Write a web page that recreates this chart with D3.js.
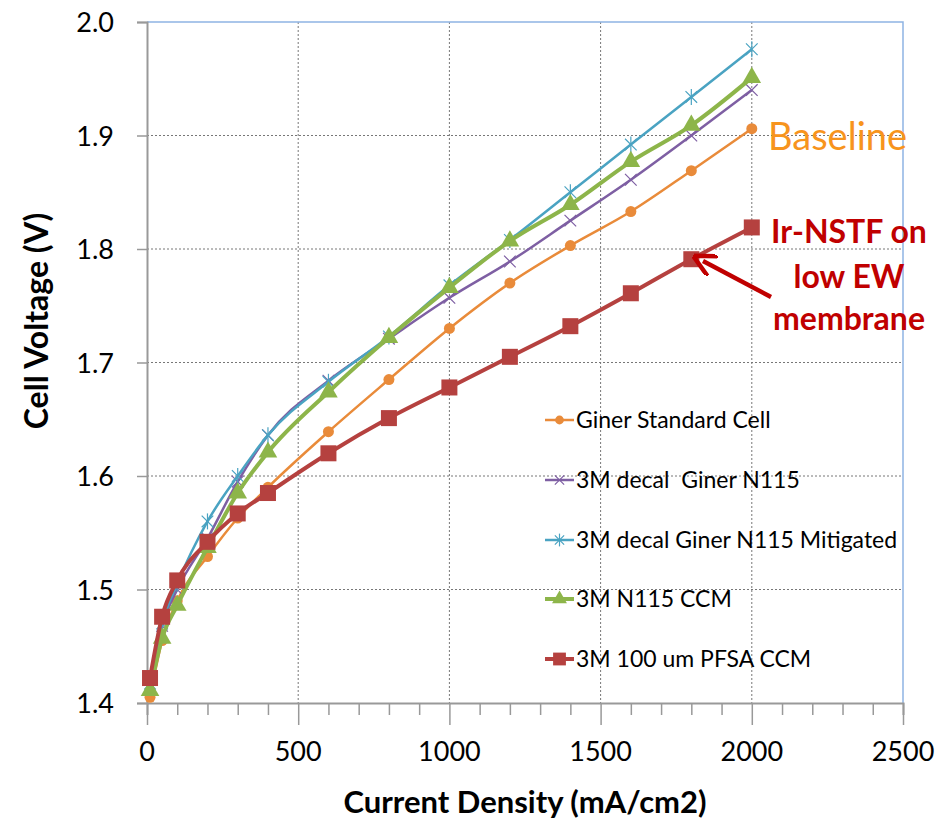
<!DOCTYPE html>
<html>
<head>
<meta charset="utf-8">
<script src="https://cdn.jsdelivr.net/npm/d3@7"></script>
<style>
  body { margin: 0; background: #fff; }
  text { font-family: Lato, "Open Sans", sans-serif; }
  .tick-label { font-size: 27px; fill: #000; }
  .axis-title { font-size: 31px; font-weight: bold; fill: #000; }
  .legend-label { font-size: 23px; fill: #000; white-space: pre; }
</style>
</head>
<body>
<div id="chart"></div>
<script>
const currents = [10, 50, 100, 200, 300, 400, 600, 800, 1000, 1200, 1400, 1600, 1800, 2000]

const ginerStandard = [1.405, 1.455, 1.490, 1.529, 1.563, 1.590, 1.639, 1.685, 1.730, 1.770, 1.803, 1.833, 1.869, 1.906]
const decalN115 = [1.415, 1.468, 1.500, 1.545, 1.595, 1.636, 1.684, 1.721, 1.757, 1.789, 1.825, 1.861, 1.900, 1.940]
const decalMitigated = [1.417, 1.470, 1.505, 1.560, 1.600, 1.636, 1.683, 1.723, 1.768, 1.808, 1.850, 1.892, 1.934, 1.976]
const n115CCM = [1.411, 1.457, 1.486, 1.537, 1.585, 1.621, 1.674, 1.722, 1.766, 1.807, 1.839, 1.877, 1.909, 1.951]
const pfsaCCM = [1.422, 1.476, 1.508, 1.542, 1.567, 1.585, 1.620, 1.651, 1.678, 1.705, 1.732, 1.761, 1.791, 1.819]

const seriesNames = ["Giner Standard Cell", "3M decal  Giner N115", "3M decal Giner N115 Mitigated", "3M N115 CCM", "3M 100 um PFSA CCM"]
const xTicks = [0, 500, 1000, 1500, 2000, 2500]
const yTicks = [1.4, 1.5, 1.6, 1.7, 1.8, 1.9, 2.0]

var width = 941, height = 829
var margin = {left: 147, right: 38, top: 22, bottom: 126}

var series = [
    {name: seriesNames[0], values: ginerStandard, color: "#E98B3A", lw: 2.5, marker: "circle"},
    {name: seriesNames[1], values: decalN115, color: "#7E5FA3", lw: 2.5, marker: "x"},
    {name: seriesNames[2], values: decalMitigated, color: "#4AA3C2", lw: 2.5, marker: "star"},
    {name: seriesNames[3], values: n115CCM, color: "#8DB54A", lw: 4, marker: "triangle"},
    {name: seriesNames[4], values: pfsaCCM, color: "#B5413F", lw: 4, marker: "square"}
]

var xScale = d3.scaleLinear().domain([0, 2500]).range([margin.left, width - margin.right])
var yScale = d3.scaleLinear().domain([1.4, 2.0]).range([height - margin.bottom, margin.top])

var svg = d3.select("#chart").append("svg")
    .attr("width", width)
    .attr("height", height)

// grid
svg.append("g").selectAll("line")
    .data(xTicks.filter(d => d > 0 && d < 2500))
    .enter().append("line")
        .attr("x1", d => xScale(d)).attr("x2", d => xScale(d))
        .attr("y1", yScale(2.0)).attr("y2", yScale(1.4))
        .attr("stroke", "#777").attr("stroke-width", 1).attr("stroke-dasharray", "2,2")
svg.append("g").selectAll("line")
    .data(yTicks.filter(d => d > 1.4 && d < 2.0))
    .enter().append("line")
        .attr("x1", xScale(0)).attr("x2", xScale(2500))
        .attr("y1", d => yScale(d)).attr("y2", d => yScale(d))
        .attr("stroke", "#777").attr("stroke-width", 1).attr("stroke-dasharray", "2,2")

// plot border top/right (light blue)
svg.append("path")
    .attr("d", "M" + xScale(0) + "," + yScale(2.0) + "H" + xScale(2500) + "V" + yScale(1.4))
    .attr("fill", "none").attr("stroke", "#8EB4E3").attr("stroke-width", 1.5)

// x axis
var xAxis = d3.axisBottom(xScale).tickValues(d3.range(0, 2501, 100)).tickFormat("").tickSize(12)
var gx = svg.append("g")
    .attr("transform", "translate(0," + yScale(1.4) + ")")
    .call(xAxis)
gx.select(".domain").attr("stroke", "#999").attr("stroke-width", 2)
gx.selectAll(".tick line").attr("stroke", "#999").attr("stroke-width", 1.5)
    .attr("y2", d => d % 500 === 0 ? 22 : 12)
svg.append("g").selectAll("text")
    .data(xTicks)
    .enter().append("text")
        .attr("class", "tick-label")
        .attr("x", d => xScale(d))
        .attr("y", yScale(1.4) + 58)
        .attr("text-anchor", "middle")
        .text(d => d)

// y axis
var yAxis = d3.axisLeft(yScale).tickValues(yTicks).tickFormat("").tickSize(10)
var gy = svg.append("g")
    .attr("transform", "translate(" + xScale(0) + ",0)")
    .call(yAxis)
gy.select(".domain").attr("stroke", "#999").attr("stroke-width", 2)
gy.selectAll(".tick line").attr("stroke", "#999").attr("stroke-width", 1.5)
svg.append("g").selectAll("text")
    .data(yTicks)
    .enter().append("text")
        .attr("class", "tick-label")
        .attr("x", xScale(0) - 33)
        .attr("y", d => yScale(d) + 10)
        .attr("text-anchor", "end")
        .text(d => d.toFixed(1))

svg.append("text")
    .attr("class", "axis-title")
    .style("font-size", "32px")
    .attr("transform", "translate(48," + 321 + ")rotate(-90)")
    .attr("text-anchor", "middle")
    .text("Cell Voltage (V)")
svg.append("text")
    .attr("class", "axis-title")
    .attr("x", 525).attr("y", 813)
    .attr("text-anchor", "middle")
    .text("Current Density (mA/cm2)")

// markers
function drawMarker(sel, type, color, s) {
    if (type === "circle") {
        sel.append("circle").attr("r", 5.5 * s).attr("fill", color)
    } else if (type === "x") {
        sel.append("path").attr("d", d3.symbol(d3.symbolTimes, 90 * s * s)())
            .attr("stroke", color).attr("stroke-width", 1.2).attr("fill", "none")
    } else if (type === "star") {
        sel.append("path").attr("d", d3.symbol(d3.symbolTimes, 90 * s * s)())
            .attr("stroke", color).attr("stroke-width", 1.2).attr("fill", "none")
        sel.append("line").attr("y1", -8 * s).attr("y2", 8 * s)
            .attr("stroke", color).attr("stroke-width", 1.2)
    } else if (type === "triangle") {
        sel.append("path").attr("d", d3.symbol(d3.symbolTriangle, 150 * s * s)())
            .attr("fill", color)
    } else if (type === "square") {
        sel.append("rect").attr("x", -8 * s).attr("y", -8 * s)
            .attr("width", 16 * s).attr("height", 16 * s).attr("fill", color)
    }
}

var line = d3.line()
    .x((d, i) => xScale(currents[i]))
    .y(d => yScale(d))
    .curve(d3.curveMonotoneX)

series.forEach(function(s) {
    svg.append("path")
        .datum(s.values)
        .attr("d", line)
        .attr("fill", "none")
        .attr("stroke", s.color)
        .attr("stroke-width", s.lw)
    svg.append("g").selectAll("g")
        .data(s.values)
        .enter().append("g")
            .attr("transform", (d, i) => "translate(" + xScale(currents[i]) + "," + yScale(d) + ")")
            .each(function() { drawMarker(d3.select(this), s.marker, s.color, 1) })
})

// legend
var legendY = [420, 480, 540, 599, 659]
series.forEach(function(s, i) {
    var lg = svg.append("g").attr("transform", "translate(545," + legendY[i] + ")")
    lg.append("line").attr("x1", 0).attr("x2", 29).attr("stroke", s.color).attr("stroke-width", s.lw)
    var m = lg.append("g").attr("transform", "translate(14.5,0)")
    drawMarker(m, s.marker, s.color, 0.8)
    lg.append("text")
        .attr("class", "legend-label")
        .attr("x", 31).attr("y", 8)
        .text(s.name)
})

// annotations
svg.append("text")
    .attr("x", 768).attr("y", 150)
    .attr("font-size", 38).attr("fill", "#F7941D")
    .text("Baseline")

var ann = svg.append("text")
    .attr("font-size", 32).attr("font-weight", "bold").attr("fill", "#C00000")
    .attr("text-anchor", "middle")
;[["Ir-NSTF on", 243], ["low EW", 288], ["membrane", 330]].forEach(function(l) {
    ann.append("tspan").attr("x", 849).attr("y", l[1]).text(l[0])
})

svg.append("defs").append("marker")
    .attr("id", "arrow").attr("viewBox", "0 0 10 10")
    .attr("refX", 5).attr("refY", 5)
    .attr("markerWidth", 5).attr("markerHeight", 5)
    .attr("orient", "auto-start-reverse")
    .append("path").attr("d", "M0,0L10,5L0,10").attr("fill", "none")
    .attr("stroke", "#C00000").attr("stroke-width", 2)
svg.append("line")
    .attr("x1", 771).attr("y1", 297)
    .attr("x2", 703).attr("y2", 261)
    .attr("stroke", "#C00000").attr("stroke-width", 4.5)
    .attr("marker-end", "url(#arrow)")
</script>
</body>
</html>
